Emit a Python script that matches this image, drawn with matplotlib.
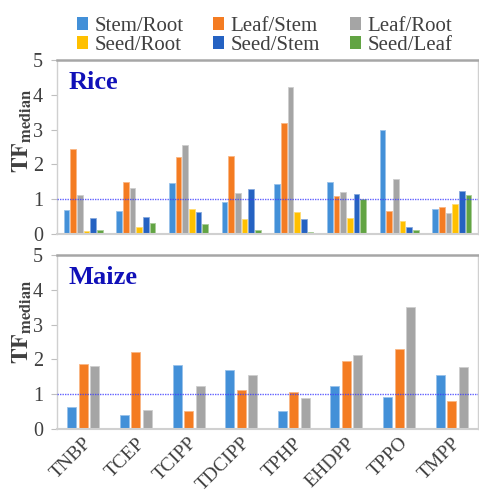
import matplotlib
matplotlib.use("Agg")
import matplotlib.pyplot as plt
from matplotlib.patches import Patch
import numpy as np

plt.rcParams['font.family'] = 'serif'
plt.rcParams['font.serif'] = ['Liberation Serif', 'DejaVu Serif']
plt.rcParams['mathtext.fontset'] = 'stix'

compounds = ["TNBP", "TCEP", "TCIPP", "TDCIPP", "TPHP", "EHDPP", "TPPO", "TMPP"]
series = ["Stem/Root", "Leaf/Stem", "Leaf/Root", "Seed/Root", "Seed/Stem", "Seed/Leaf"]
colors = ["#4390D8", "#F47C22", "#A5A5A5", "#FFC000", "#2562C2", "#62A443"]

rice_stem_root = [0.70, 0.67, 1.46, 0.91, 1.44, 1.48, 2.99, 0.71]
rice_leaf_stem = [2.45, 1.50, 2.20, 2.23, 3.18, 1.10, 0.65, 0.78]
rice_leaf_root = [1.12, 1.33, 2.56, 1.19, 4.21, 1.22, 1.57, 0.60]
rice_seed_root = [0.09, 0.21, 0.72, 0.43, 0.63, 0.47, 0.38, 0.86]
rice_seed_stem = [0.46, 0.49, 0.63, 1.29, 0.43, 1.16, 0.19, 1.24]
rice_seed_leaf = [0.12, 0.33, 0.29, 0.12, 0.07, 1.01, 0.12, 1.12]
rice = [rice_stem_root, rice_leaf_stem, rice_leaf_root,
        rice_seed_root, rice_seed_stem, rice_seed_leaf]

maize_stem_root = [0.64, 0.41, 1.85, 1.69, 0.53, 1.25, 0.92, 1.56]
maize_leaf_stem = [1.88, 2.22, 0.52, 1.13, 1.07, 1.96, 2.30, 0.80]
maize_leaf_root = [1.82, 0.54, 1.23, 1.54, 0.88, 2.12, 3.52, 1.77]
maize = [maize_stem_root, maize_leaf_stem, maize_leaf_root]

W, H = 479, 494
fig = plt.figure(figsize=(W / 100, H / 100), dpi=100)

def frac_box(l, t, r, b):
    return [l / W, 1 - b / H, (r - l) / W, (b - t) / H]

ax1 = fig.add_axes(frac_box(57, 60, 478, 234))
ax2 = fig.add_axes(frac_box(57, 255, 478, 429))

def lighten(c, f=0.45):
    rgb = np.array(matplotlib.colors.to_rgb(c))
    return tuple(rgb + (1 - rgb) * f)

x = np.arange(len(compounds))

def draw(ax, data, step, width, title):
    n = len(data)
    for j, vals in enumerate(data):
        ax.bar(x + (j - (n - 1) / 2) * step, vals, width=width,
               color=colors[j], edgecolor=lighten(colors[j]), linewidth=0.6, zorder=2)
    ax.axhline(1, color="#3b3bff", lw=1.0, linestyle=(0, (1, 0.8)), alpha=0.8, zorder=3)
    ax.set_xlim(-0.5, len(compounds) - 0.5)
    ax.set_ylim(0, 5)
    ax.set_yticks(range(6))
    ax.tick_params(axis='y', length=4, color="#BFBFBF", labelsize=14.5,
                   labelcolor="#404040", pad=6)
    ax.tick_params(axis='x', length=0)
    for s in ['left', 'right']:
        ax.spines[s].set_color("#D0D0D0")
        ax.spines[s].set_linewidth(1.0)
    ax.spines['top'].set_color("#A6A6A6")
    ax.spines['top'].set_linewidth(1.8)
    ax.spines['bottom'].set_color("#D0D0D0")
    ax.spines['bottom'].set_linewidth(1.5)
    ax.text(0.028, 0.935, title, transform=ax.transAxes, fontsize=19,
            fontweight='bold', color="#1010B8", va='top', ha='left')

draw(ax1, rice, 0.127, 0.108, "Rice")
draw(ax2, maize, 0.219, 0.171, "Maize")

ax1.set_xticks(x)
ax1.set_xticklabels([])
ax2.set_xticks(x)
ax2.set_xticklabels(compounds, rotation=45, ha='right', va='top',
                    rotation_mode='anchor', fontsize=14, color="#404040")
ax2.tick_params(axis='x', pad=4)

for yc in (131, 322):
    fig.text(22 / W, 1 - yc / H, r'$\mathbf{TF}_{\mathbf{median}}$', rotation=90,
             ha='center', va='center', fontsize=17, color="#404040")

handles = [Patch(facecolor=c, edgecolor='none') for c in colors]
order = [0, 3, 1, 4, 2, 5]
fig.legend([handles[i] for i in order], [series[i] for i in order],
           ncol=3, loc='upper center', bbox_to_anchor=(0.552, 0.995),
           frameon=False, fontsize=15, handlelength=0.55, handleheight=0.55,
           handletextpad=0.3, columnspacing=1.42, labelspacing=0.0,
           labelcolor="#404040", borderaxespad=0.3)

fig.savefig("out.png", dpi=100)
